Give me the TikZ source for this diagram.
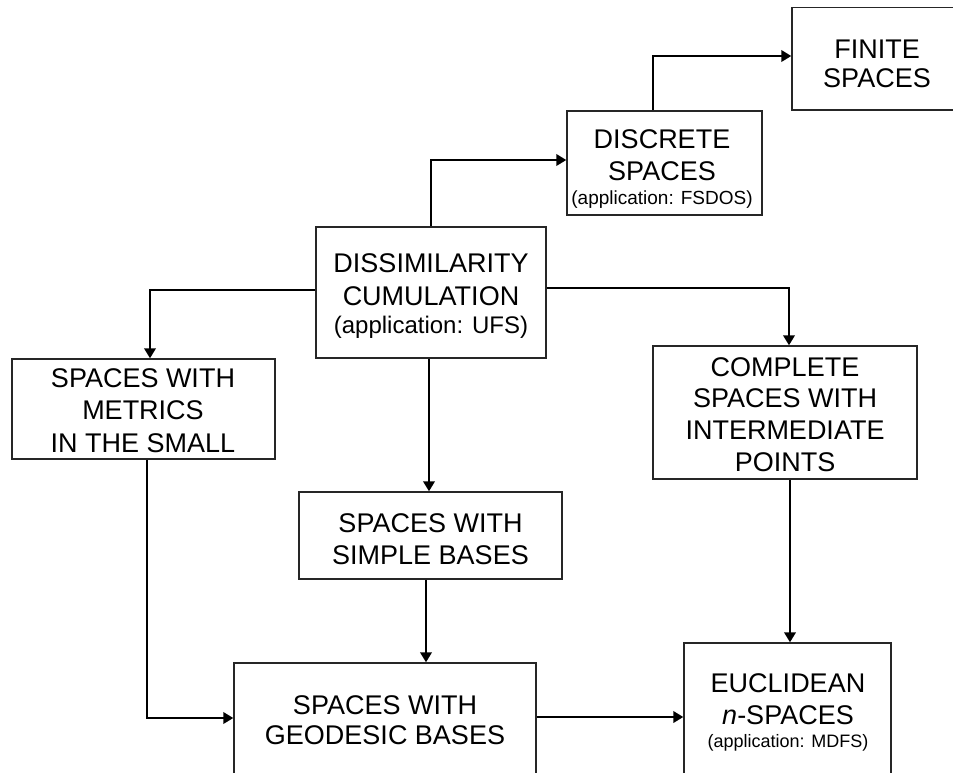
\documentclass[tikz,border=0pt]{standalone}
\usepackage{fontspec}
\setmainfont{Liberation Sans}
\usetikzlibrary{arrows.meta,fit}
\begin{document}
\begin{tikzpicture}[x=0.75pt,y=-0.75pt,
  box/.style={draw=black!85,line width=1pt,inner sep=0pt},
  conn/.style={line width=2pt,-{Triangle[length=7.5pt,width=8.5pt]}},
  txt/.style={anchor=base,inner sep=0pt,font=\fontsize{20.25pt}{24pt}\selectfont},
  smlA/.style={anchor=base,inner sep=0pt,font=\fontsize{14.25pt}{17pt}\selectfont},
  smlB/.style={anchor=base,inner sep=0pt,font=\fontsize{18pt}{21pt}\selectfont},
  smlC/.style={anchor=base,inner sep=0pt,font=\fontsize{13.5pt}{16pt}\selectfont}]
\useasboundingbox (0,0) rectangle (953,772);
\clip (0,0) rectangle (953,772);

% boxes
\node[box,fit={(792,7.5) (962,110)}] (fin) {};
\node[box,fit={(567,111) (762,215)}] (disc) {};
\node[box,fit={(316,227) (546,358)}] (diss) {};
\node[box,fit={(12,359) (275,459)}] (met) {};
\node[box,fit={(653,346) (917,479)}] (comp) {};
\node[box,fit={(299,492) (562,579)}] (simp) {};
\node[box,fit={(234,663) (536,790)}] (geo) {};
\node[box,fit={(684,643) (891,790)}] (euc) {};

% texts
\node[txt] (fin1) at (877,58) {FINITE};
\node[txt] (fin2) at (877,87) {SPACES};

\node[txt] (disc1) at (662,148) {DISCRETE};
\node[txt] (disc2) at (662,180) {SPACES};
\node[smlA] (disc3) at (662,204) {(application: FSDOS)};

\node[txt] (diss1) at (431,272.7) {DISSIMILARITY};
\node[txt] (diss2) at (431,305) {CUMULATION};
\node[smlB] (diss3) at (431,333.5) {(application: UFS)};

\node[txt] (met1) at (143,387.7) {SPACES WITH};
\node[txt] (met2) at (143,419.7) {METRICS};
\node[txt] (met3) at (143,452) {IN THE SMALL};

\node[txt] (comp1) at (785,376.7) {COMPLETE};
\node[txt] (comp2) at (785,407.7) {SPACES WITH};
\node[txt] (comp3) at (785,439.7) {INTERMEDIATE};
\node[txt] (comp4) at (785,471.7) {POINTS};

\node[txt] (simp1) at (430.5,532.7) {SPACES WITH};
\node[txt] (simp2) at (430.5,564.7) {SIMPLE BASES};

\node[txt] (geo1) at (385,714.7) {SPACES WITH};
\node[txt] (geo2) at (385,744.7) {GEODESIC BASES};

\node[txt] (euc1) at (788,692.7) {EUCLIDEAN};
\node[txt] (euc2) at (788,724.7) {\textit{n}-SPACES};
\node[smlC] (euc3) at (788,747.7) {(application: MDFS)};

% connectors
\draw[conn] (431,0 |- diss.north) |- (disc.west |- 0,160);
\draw[conn] (653,0 |- disc.north) |- (fin.west |- 0,56);
\draw[conn] (diss.west |- 0,290) -| (150,0 |- met.north);
\draw[conn] (diss.east |- 0,288) -| (789,0 |- comp.north);
\draw[conn] (429,0 |- diss.south) -- (429,0 |- simp.north);
\draw[conn] (426,0 |- simp.south) -- (426,0 |- geo.north);
\draw[conn] (147,0 |- met.south) |- (geo.west |- 0,718);
\draw[conn] (geo.east |- 0,717) -- (euc.west |- 0,717);
\draw[conn] (790,0 |- comp.south) -- (790,0 |- euc.north);
\end{tikzpicture}
\end{document}
